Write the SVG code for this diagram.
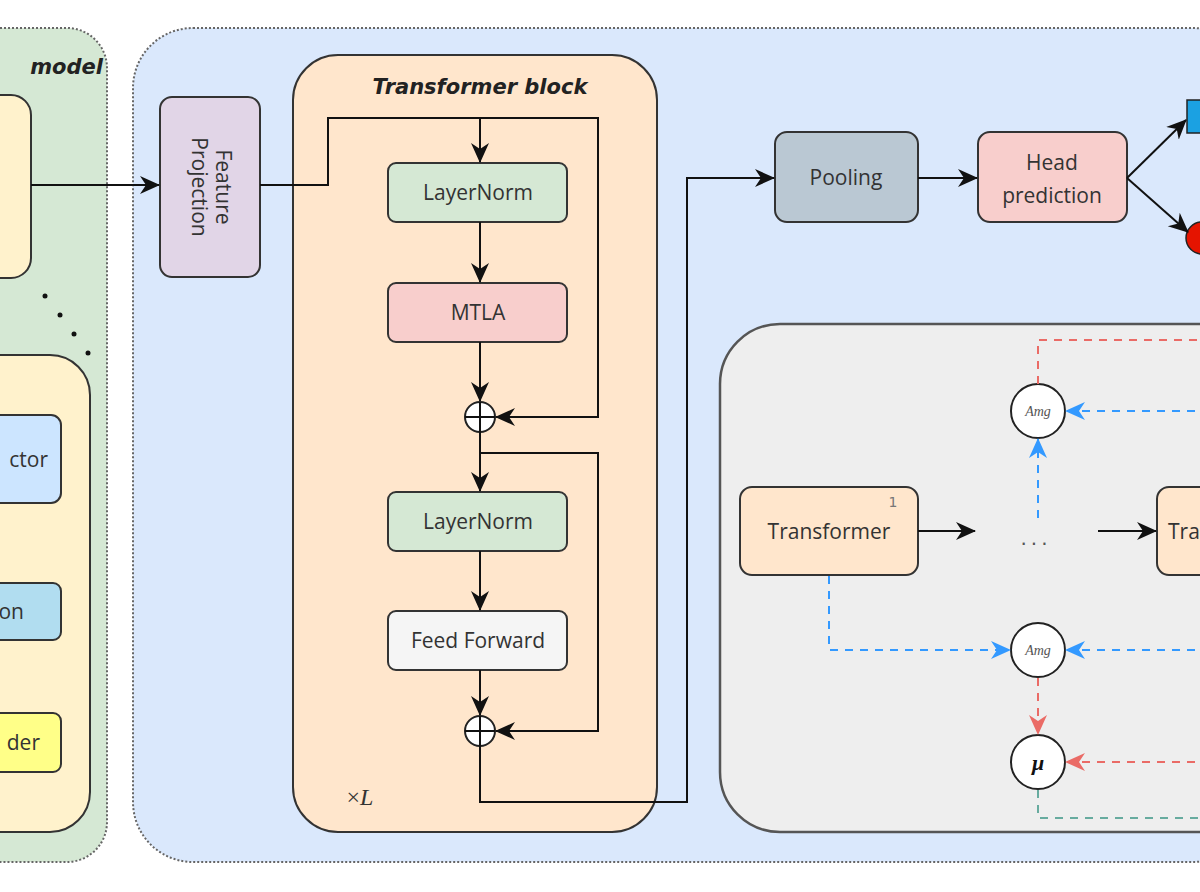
<svg xmlns="http://www.w3.org/2000/svg" width="1200" height="892" viewBox="0 0 1200 892">
<style>
.t{font-family:"Open Sans","DejaVu Sans",sans-serif;font-size:21px;fill:#333;text-anchor:middle}
.e{text-anchor:end}
.s{text-anchor:start}
.b{stroke:#333;stroke-width:2}
.ln{fill:none;stroke:#111;stroke-width:2}
.db{fill:none;stroke:#3399ff;stroke-width:2;stroke-dasharray:8 7}
.dr{fill:none;stroke:#ea6b66;stroke-width:2;stroke-dasharray:8 7}
.dg{fill:none;stroke:#67ab9f;stroke-width:2;stroke-dasharray:8 7}
.c{fill:#fff;stroke:#222;stroke-width:2}
.m{font-family:"Liberation Serif",serif;font-style:italic;font-size:14px;fill:#555;text-anchor:middle}
</style>
<defs>
<marker id="a" viewBox="0 0 20 20" refX="19" refY="10" markerWidth="20" markerHeight="20" markerUnits="userSpaceOnUse" orient="auto"><path d="M0,1 L20,10 L0,19 L6,10 Z" fill="#111"/></marker>
<marker id="ab" viewBox="0 0 20 20" refX="19" refY="10" markerWidth="20" markerHeight="20" markerUnits="userSpaceOnUse" orient="auto"><path d="M0,1 L20,10 L0,19 L6,10 Z" fill="#3399ff"/></marker>
<marker id="ar" viewBox="0 0 20 20" refX="19" refY="10" markerWidth="20" markerHeight="20" markerUnits="userSpaceOnUse" orient="auto"><path d="M0,1 L20,10 L0,19 L6,10 Z" fill="#ea6b66"/></marker>
</defs>
<rect width="1200" height="892" fill="#fff"/>
<g id="left-model">
<rect x="-60" y="28" width="167" height="834" rx="40" fill="#d5e8d4" stroke="#666" stroke-width="2" stroke-dasharray="2 2"/>
<text x="103" y="74" font-family="DejaVu Sans,sans-serif" font-weight="bold" font-style="italic" font-size="21" fill="#222" text-anchor="end">model</text>
<rect x="-40" y="95" width="71" height="183" rx="20" fill="#fff2cc" class="b"/>
<g fill="#111"><circle cx="45" cy="296" r="2.5"/><circle cx="60" cy="315" r="2.5"/><circle cx="74" cy="334" r="2.5"/><circle cx="88" cy="353" r="2.5"/></g>
<rect x="-60" y="355" width="150" height="477" rx="40" fill="#fff2cc" class="b"/>
<rect x="-40" y="415" width="101" height="88" rx="10" fill="#cce5ff" class="b"/>
<text x="48" y="467" class="t e">ctor</text>
<rect x="-40" y="583" width="101" height="57" rx="8" fill="#b1ddf0" class="b"/>
<text x="24" y="619" class="t e">on</text>
<rect x="-40" y="713" width="101" height="59" rx="8" fill="#ffff88" class="b"/>
<text x="40" y="750" class="t e">der</text>
</g>
<g id="main-container">
<rect x="133" y="28" width="1120" height="834" rx="60" fill="#dae8fc" stroke="#666" stroke-width="2" stroke-dasharray="2 2"/>
</g>
<g id="feature-projection">
<rect x="160" y="97" width="100" height="180" rx="12" fill="#e1d5e7" class="b"/>
<text class="t" transform="translate(210,187) rotate(90)"><tspan x="0" y="-6">Feature</tspan><tspan x="0" y="18">Projection</tspan></text>
</g>
<g id="transformer-block">
<rect x="293" y="55" width="364" height="777" rx="45" fill="#ffe6cc" class="b"/>
<text x="480" y="94" font-family="DejaVu Sans,sans-serif" font-weight="bold" font-style="italic" font-size="21" fill="#222" text-anchor="middle">Transformer block</text>
<text x="360" y="805" font-family="Liberation Serif,serif" font-size="24" fill="#333" text-anchor="middle">×<tspan font-style="italic">L</tspan></text>
</g>
<g id="layernorm1"><rect x="388" y="163" width="179" height="59" rx="8" fill="#d5e8d4" class="b"/><text x="478" y="200" class="t">LayerNorm</text></g>
<g id="mtla"><rect x="388" y="283" width="179" height="59" rx="8" fill="#f8cecc" class="b"/><text x="478" y="320" class="t">MTLA</text></g>
<g id="plus1"><circle cx="480" cy="417" r="15" class="c"/><path d="M465,417H495M480,402V432" class="ln"/></g>
<g id="layernorm2"><rect x="388" y="492" width="179" height="59" rx="8" fill="#d5e8d4" class="b"/><text x="478" y="529" class="t">LayerNorm</text></g>
<g id="feed-forward"><rect x="388" y="611" width="179" height="59" rx="8" fill="#f5f5f5" class="b"/><text x="478" y="648" class="t">Feed Forward</text></g>
<g id="plus2"><circle cx="480" cy="731" r="15" class="c"/><path d="M465,731H495M480,716V746" class="ln"/></g>
<g id="pooling"><rect x="775" y="132" width="143" height="90" rx="12" fill="#bac8d3" class="b"/><text x="846" y="185" class="t">Pooling</text></g>
<g id="head-prediction"><rect x="978" y="132" width="149" height="90" rx="12" fill="#f8cecc" class="b"/><text x="1052" y="170" class="t">Head</text><text x="1052" y="203" class="t">prediction</text></g>
<g id="out-square"><rect x="1187" y="100" width="20" height="33" fill="#1ba1e2" stroke="#222" stroke-width="1.5"/></g>
<g id="out-circle"><circle cx="1202" cy="238" r="16" fill="#e51400" stroke="#222" stroke-width="1.5"/></g>
<g id="ensemble">
<rect x="720" y="324" width="560" height="508" rx="60" fill="#eeeeee" stroke="#555" stroke-width="2.5"/>
</g>
<g id="transformer1"><rect x="740" y="487" width="178" height="88" rx="12" fill="#ffe6cc" class="b"/><text x="829" y="539" class="t">Transformer</text><text x="893" y="507" font-family="DejaVu Sans,sans-serif" font-size="14" fill="#777" text-anchor="middle">1</text></g>
<g id="transformer2"><rect x="1157" y="487" width="178" height="88" rx="12" fill="#ffe6cc" class="b"/><text x="1168" y="539" class="t s">Transformer</text></g>
<text x="1036" y="545" font-family="DejaVu Sans,sans-serif" font-size="20" fill="#555" text-anchor="middle" letter-spacing="4">...</text>
<g id="amg1"><circle cx="1038" cy="411" r="27" class="c"/><text x="1038" y="416" class="m">Amg</text></g>
<g id="amg2"><circle cx="1038" cy="650" r="27" class="c"/><text x="1038" y="655" class="m">Amg</text></g>
<g id="mu"><circle cx="1038" cy="762" r="27" class="c"/><text x="1038" y="770" font-family="Liberation Serif,serif" font-style="italic" font-weight="bold" font-size="22" fill="#111" text-anchor="middle">μ</text></g>
<g id="connectors">
<path d="M31,185H159" class="ln" marker-end="url(#a)"/>
<path d="M260,185H328V118H598V417H496" class="ln" marker-end="url(#a)"/>
<path d="M480,118V162" class="ln" marker-end="url(#a)"/>
<path d="M480,222V282" class="ln" marker-end="url(#a)"/>
<path d="M480,342V401" class="ln" marker-end="url(#a)"/>
<path d="M480,432V491" class="ln" marker-end="url(#a)"/>
<path d="M480,453H598V731H496" class="ln" marker-end="url(#a)"/>
<path d="M480,551V610" class="ln" marker-end="url(#a)"/>
<path d="M480,670V715" class="ln" marker-end="url(#a)"/>
<path d="M480,746V802H687V178H774" class="ln" marker-end="url(#a)"/>
<path d="M918,178H977" class="ln" marker-end="url(#a)"/>
<path d="M1127,178L1186,120" class="ln" marker-end="url(#a)"/>
<path d="M1127,178L1188,232" class="ln" marker-end="url(#a)"/>
<path d="M918,531H975" class="ln" marker-end="url(#a)"/>
<path d="M1098,531H1156" class="ln" marker-end="url(#a)"/>
<path d="M1038,384V340H1210" class="dr"/>
<path d="M1210,411H1066" class="db" marker-end="url(#ab)"/>
<path d="M1038,518V439" class="db" marker-end="url(#ab)"/>
<path d="M829,576V650H1010" class="db" marker-end="url(#ab)"/>
<path d="M1210,650H1066" class="db" marker-end="url(#ab)"/>
<path d="M1038,678V734" class="dr" marker-end="url(#ar)"/>
<path d="M1210,762H1066" class="dr" marker-end="url(#ar)"/>
<path d="M1038,790V818H1210" class="dg"/>
</g>
</svg>
